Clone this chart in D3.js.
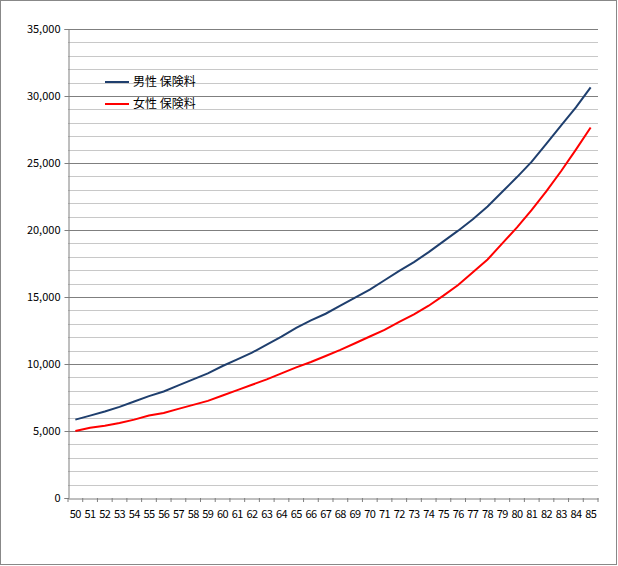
<!DOCTYPE html>
<html><head><meta charset="utf-8">
<script src="https://cdn.jsdelivr.net/npm/d3@7"></script>
<style>body{margin:0;background:#fff}text{font-family:"Noto Sans CJK JP","DejaVu Sans",sans-serif}</style>
</head><body><svg id="c" width="618" height="566"></svg>
<script>
const ages = d3.range(50, 86).map(String);
const male = [5850,6150,6450,6800,7200,7600,7950,8400,8850,9300,9850,10350,10850,11450,12050,12700,13250,13750,14350,14950,15550,16250,16950,17600,18350,19150,19950,20800,21750,22850,23950,25100,26450,27800,29150,30650];
const female = [5000,5250,5400,5600,5850,6150,6350,6650,6950,7250,7650,8050,8450,8850,9300,9750,10150,10600,11050,11550,12050,12550,13150,13700,14350,15100,15900,16850,17800,19000,20200,21500,22900,24400,26000,27650];
const series = [{name:"男性 保険料",values:male,color:"#1f3f6e"},{name:"女性 保険料",values:female,color:"#ff0000"}];
const yTicks = d3.range(0,35001,5000);

const svg = d3.select("#c");
svg.append("rect").attr("x",0.5).attr("y",0.5).attr("width",616).attr("height",564).attr("fill","#fff").attr("stroke","#888");
const L=68,R=598,T=29,B=498;
const x = d3.scaleBand().domain(ages).range([L,R]);
const y = d3.scaleLinear().domain([0,35000]).range([B,T]);

const g = svg.append("g");
d3.range(1000,35001,1000).forEach(v=>{
  g.append("line").attr("x1",L).attr("x2",R).attr("y1",Math.round(y(v))+0.5).attr("y2",Math.round(y(v))+0.5)
   .attr("stroke", v%5000===0 ? "#7f7f7f" : "#c8c8c8").attr("stroke-width",1);
});
const ya = svg.append("g").attr("transform",`translate(${L+0.5},0)`)
  .call(d3.axisLeft(y).tickValues(yTicks).tickSize(4).tickFormat(d3.format(",")));
ya.select(".domain").attr("stroke","#7f7f7f");
ya.selectAll(".tick line").attr("stroke","#7f7f7f");
ya.selectAll("text").attr("font-size",11).attr("fill","#000").attr("x",-8);

const xa = svg.append("g").attr("transform",`translate(0,${B+0.5})`)
  .call(d3.axisBottom(x).tickSize(0).tickPadding(12));
xa.select(".domain").attr("stroke","#7f7f7f");
xa.selectAll("text").attr("font-size",11).attr("fill","#000").attr("letter-spacing",-0.6);
ages.concat(["end"]).forEach((a,i)=>{
  const xx = L + i*x.bandwidth();
  svg.append("line").attr("x1",xx).attr("x2",xx).attr("y1",B).attr("y2",B+4).attr("stroke","#7f7f7f");
});

const line = d3.line().x((d,i)=>x(ages[i])+x.bandwidth()/2).y(d=>y(d));
series.forEach((s,k)=>{
  svg.append("path").attr("d",line(s.values)).attr("fill","none").attr("stroke",s.color).attr("stroke-width",2);
  const ly = 82 + k*22;
  svg.append("line").attr("x1",105).attr("x2",129).attr("y1",ly).attr("y2",ly).attr("stroke",s.color).attr("stroke-width",2);
  svg.append("text").attr("x",133).attr("y",ly+4).attr("font-size",12).text(s.name);
});
</script></body></html>
